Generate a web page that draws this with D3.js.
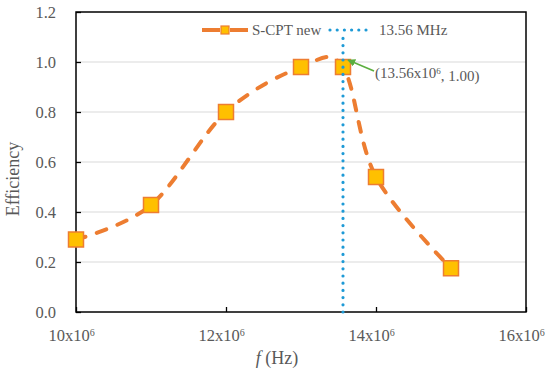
<!DOCTYPE html>
<html>
<head>
<meta charset="utf-8">
<script src="https://cdn.jsdelivr.net/npm/d3@7"></script>
<style>
  body { margin: 0; background: #fff; }
  svg text { font-family: "Liberation Serif", "Times New Roman", serif; fill: #595959; }
</style>
</head>
<body>
<div id="chart"></div>
<script>
// measured efficiency vs frequency
var freqs = [10e6, 11e6, 12e6, 13e6, 13.56e6, 14e6, 15e6];
var effs  = [0.29, 0.428, 0.80, 0.98, 0.98, 0.54, 0.175];

var markFreq = 13.56e6;
var xTicks = [10e6, 12e6, 14e6, 16e6];
var yTicks = [0, 0.2, 0.4, 0.6, 0.8, 1.0, 1.2];

var width = 550, height = 377;
var margin = {top: 12, right: 24, bottom: 65, left: 76};
var w = width - margin.left - margin.right,
    h = height - margin.top - margin.bottom;

var orange = "#ED7D31", gold = "#FFC000", blue = "#1E9AD6", green = "#5BAE3F";
var serif = "'Liberation Serif', serif";

var svg = d3.select("#chart").append("svg")
  .attr("width", width)
  .attr("height", height)
  .attr("font-family", serif);

var defs = svg.append("defs");
defs.append("marker")
  .attr("id", "arrow")
  .attr("viewBox", "0 0 10 10")
  .attr("refX", 9).attr("refY", 5)
  .attr("markerWidth", 5).attr("markerHeight", 5)
  .attr("orient", "auto-start-reverse")
  .append("path")
  .attr("d", "M0,0L10,5L0,10z")
  .attr("fill", green);

var g = svg.append("g")
  .attr("transform", "translate(" + margin.left + "," + margin.top + ")");

var x = d3.scaleLinear().domain([10e6, 16e6]).range([0, w]);
var y = d3.scaleLinear().domain([0, 1.2]).range([h, 0]);

//gridlines
g.append("g")
  .selectAll("line")
  .data(yTicks.filter(function(d){ return d > 0 && d < 1.2; }))
  .enter().append("line")
  .attr("x1", 0).attr("x2", w)
  .attr("y1", function(d){ return y(d); })
  .attr("y2", function(d){ return y(d); })
  .attr("stroke", "#D9D9D9")
  .attr("stroke-width", 1.2);

//y axis labels + ticks
var yAxis = d3.axisLeft(y).tickValues(yTicks).tickSize(-5).tickPadding(20)
  .tickFormat(d3.format(".1f"));
var ya = g.append("g").call(yAxis).attr("font-family", serif);
ya.select(".domain").remove();
ya.selectAll(".tick line").attr("stroke", "#000").attr("stroke-width", 1.3);
ya.selectAll(".tick text")
  .style("font-size", "16.5px")
  .attr("fill", "#595959");

//x axis
var xAxis = d3.axisBottom(x).tickValues(xTicks).tickSize(-5).tickPadding(13)
  .tickFormat(function(){ return ""; });
var xa = g.append("g").attr("transform", "translate(0," + h + ")").call(xAxis)
  .attr("font-family", serif);
xa.select(".domain").remove();
xa.selectAll(".tick line").attr("stroke", "#000").attr("stroke-width", 1.3);
xa.selectAll(".tick text").each(function(d){
  var t = d3.select(this)
    .style("font-size", "16.5px")
    .attr("fill", "#595959")
    .attr("x", -5)
    .attr("dy", "0.95em");
  t.append("tspan").text((d / 1e6) + "x10");
  t.append("tspan").text("6").attr("dy", "-0.45em").style("font-size", "10px");
});

//plot border
g.append("rect")
  .attr("width", w).attr("height", h)
  .attr("fill", "none")
  .attr("stroke", "#000")
  .attr("stroke-width", 1.5);

//smoothed dashed line
var pts = freqs.map(function(f, i){ return [f, effs[i]]; });
var line = d3.line()
  .x(function(d){ return x(d[0]); })
  .y(function(d){ return y(d[1]); })
  .curve(d3.curveCatmullRom.alpha(0));

g.append("path")
  .datum(pts)
  .attr("d", line)
  .attr("fill", "none")
  .attr("stroke", orange)
  .attr("stroke-width", 4)
  .attr("stroke-linecap", "round")
  .attr("stroke-dasharray", "10 12");

//markers
var sz = 15;
g.selectAll(".pt")
  .data(pts)
  .enter().append("rect")
  .attr("class", "pt")
  .attr("x", function(d){ return x(d[0]) - sz / 2; })
  .attr("y", function(d){ return y(d[1]) - sz / 2; })
  .attr("width", sz).attr("height", sz)
  .attr("fill", gold)
  .attr("stroke", orange)
  .attr("stroke-width", 1.5);

//13.56 MHz dotted line
g.append("line")
  .attr("x1", x(markFreq)).attr("x2", x(markFreq))
  .attr("y1", y(0)).attr("y2", y(1.2))
  .attr("stroke", blue)
  .attr("stroke-width", 3.2)
  .attr("stroke-linecap", "round")
  .attr("stroke-dasharray", "0 7.2");

//legend
var lg = svg.append("g");
lg.append("rect")
  .attr("x", 198).attr("y", 14)
  .attr("width", 255).attr("height", 22)
  .attr("fill", "#fff");
lg.append("line")
  .attr("x1", 202).attr("x2", 248)
  .attr("y1", 30).attr("y2", 30)
  .attr("stroke", orange).attr("stroke-width", 4)
  .attr("stroke-dasharray", "18 10 18");
lg.append("rect")
  .attr("x", 221).attr("y", 26)
  .attr("width", 8).attr("height", 8)
  .attr("fill", gold).attr("stroke", orange).attr("stroke-width", 1.2);
lg.append("text")
  .attr("x", 252).attr("y", 35)
  .style("font-size", "15px")
  .text("S-CPT new");
lg.append("line")
  .attr("x1", 330).attr("x2", 368)
  .attr("y1", 30).attr("y2", 30)
  .attr("stroke", blue).attr("stroke-width", 3.2)
  .attr("stroke-linecap", "round")
  .attr("stroke-dasharray", "0 7.2");
lg.append("text")
  .attr("x", 379).attr("y", 35)
  .style("font-size", "15px")
  .text("13.56 MHz");

//annotation arrow
var ax = x(markFreq), ay = y(effs[4]);
g.append("line")
  .attr("x1", ax + 31).attr("y1", ay + 4)
  .attr("x2", ax + 5).attr("y2", ay - 7)
  .attr("stroke", green)
  .attr("stroke-width", 1.6)
  .attr("marker-end", "url(#arrow)");

var ann = g.append("text")
  .attr("x", ax + 32).attr("y", ay + 11)
  .style("font-size", "15px");
ann.append("tspan").text("(13.56x10");
ann.append("tspan").text("6").attr("dy", "-0.45em").style("font-size", "9px");
ann.append("tspan").text(", 1.00)").attr("dy", "0.45em");

//axis titles
svg.append("text")
  .attr("transform", "translate(19,179) rotate(-90)")
  .attr("text-anchor", "middle")
  .style("font-size", "18px")
  .text("Efficiency");

var xt = svg.append("text")
  .attr("x", 277).attr("y", 364)
  .attr("text-anchor", "middle")
  .style("font-size", "18px");
xt.append("tspan").text("f").style("font-style", "italic");
xt.append("tspan").text("\u00a0(Hz)");
</script>
</body>
</html>
